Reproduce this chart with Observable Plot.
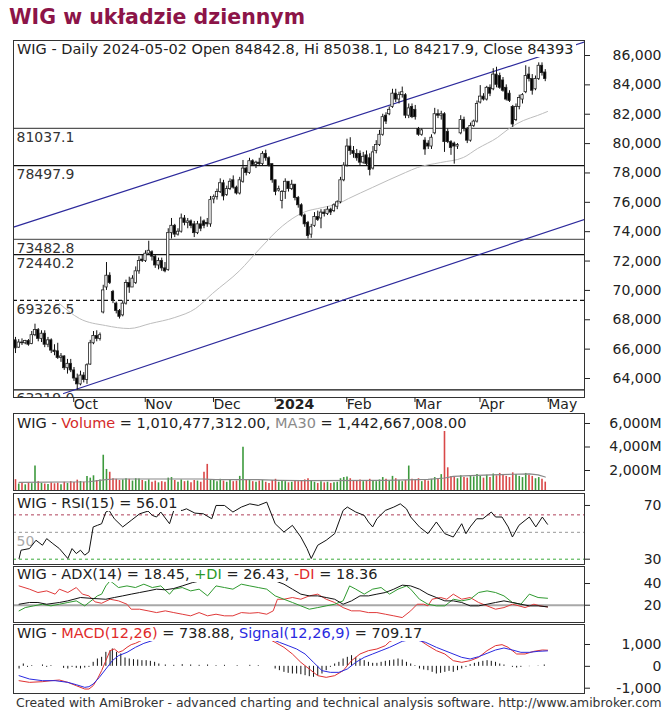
<!DOCTYPE html>
<html><head><meta charset="utf-8">
<script src="https://cdn.jsdelivr.net/npm/d3@7"></script>
<script src="https://cdn.jsdelivr.net/npm/@observablehq/plot@0.6"></script>
<style>
body{margin:0;background:#fff;}
#chart{position:relative;width:667px;height:712px;overflow:hidden;background:#fff;font-family:"DejaVu Sans",sans-serif;color:#222;}
#chart svg{position:absolute;left:0;}
.hdr{position:absolute;left:14px;background:#fff;font-size:14.5px;line-height:15px;height:15px;padding:0 3px;white-space:nowrap;color:#222;}
.title{position:absolute;left:9px;top:5px;font-size:20.5px;font-weight:bold;line-height:24px;color:#8c1448;white-space:nowrap;}
.foot{position:absolute;left:16px;top:695px;font-size:12.4px;line-height:15px;color:#333;white-space:nowrap;}
</style></head><body><div id="chart"></div>
<script>
// ---------- data ----------
const open = [66600,66100,66450,66400,66550,66350,66950,67300,66700,67050,
66300,66600,65900,65850,65400,65500,64700,65000,64550,64000,
63600,64200,63900,64950,66400,66900,66700,68500,70200,71000,
69900,69100,68600,68300,69100,70500,70200,70500,71300,72100,
72000,72500,72600,72300,71700,72000,71500,71400,73900,74400,
73800,74000,74900,74600,74700,74500,73900,74500,74700,74600,
74500,76200,76350,76700,77300,76500,76900,77500,77000,76600,
77400,78300,78000,78800,78550,78700,78600,79300,79000,78600,
77500,76800,76100,76700,77400,76900,77200,76300,75800,75100,
74600,73800,74400,75000,74900,75300,75200,75500,75400,75700,
76000,77500,78500,79800,79500,79300,79300,78700,79200,79000,
78300,79500,79900,80600,81900,82000,82500,83400,83000,83300,
83300,81900,82500,82300,81000,80600,80200,80000,79800,80700,
82000,81900,82000,80800,80100,80000,79800,80700,81600,81000,
80200,81200,81500,82800,83200,83000,83800,83700,84700,84600,
84300,83800,83400,82500,81600,82500,83000,83500,84700,84400,
83700,84400,85300,84842.8];
const high = [66800,66650,66700,66600,66650,67200,67700,67400,67250,67250,
66800,66700,66300,66400,65700,65550,65300,65300,64750,64300,
64500,64400,65000,66600,67200,67250,67100,70350,71900,71200,
70000,69200,68700,69300,70700,70900,71000,71600,72300,72400,
72700,73350,72700,72400,72200,72200,71900,74200,74900,74500,
74200,75200,75100,74900,74800,74700,74700,75000,74800,74900,
76400,76500,76900,77600,77500,77100,77600,77800,77100,77700,
78850,78400,79000,78900,78800,79000,79450,79550,79100,78600,
77500,77100,76800,77600,77400,77500,77200,76400,75900,75200,
74700,74500,75300,75400,75500,75500,75700,75600,75900,76100,
77700,78700,80300,80400,79800,79600,79500,79400,79500,79300,
79800,80200,80900,82000,82100,82500,83700,83700,83500,83850,
83400,82700,82700,82600,81100,81000,80400,80200,80600,82400,
82300,82200,82100,81000,80200,80100,80000,81900,81800,81100,
81400,81600,82900,83950,83400,83900,84000,85100,85200,84800,
84500,84000,83600,82600,82700,83300,83400,85300,85200,84700,
84600,85500,85500,85038.1];
const low = [65700,66050,66250,66300,66200,66300,66850,66500,66450,66100,
66100,65700,65550,65300,65100,64550,64300,64400,63800,63200,
63500,63700,63600,64900,66300,66500,66550,68400,70000,70400,
69100,68400,68050,68200,69000,69800,70200,70400,71100,71900,
71900,72400,72000,71500,71400,71300,71200,71300,73500,73600,
73700,73900,74400,74200,74200,73600,73800,74000,74200,74300,
74300,75900,76150,76600,76100,76400,76800,76900,76500,76500,
77300,77800,77900,78450,78300,78500,78500,78800,78400,77300,
76450,76700,75550,76200,76700,76800,76100,75600,75000,74300,
73500,73550,74300,74700,74200,75000,75100,75100,75300,75500,
75900,77400,78400,79200,79000,78800,78500,78600,78500,77800,
78200,79300,79800,80500,81300,81900,82400,82800,82700,83100,
81700,81700,81700,81600,80500,80500,79200,79600,79600,80600,
81700,81600,79400,80000,79200,78600,79600,80600,80800,80000,
80100,81100,81400,82700,82900,82900,83200,83600,83800,83700,
83500,82900,82800,81100,81500,82300,82700,83400,84200,83300,
83600,84300,84600,84217.9];
const close = [66050,66450,66400,66550,66300,66950,67300,66700,67050,66300,
66600,65900,65800,65400,65500,64700,65000,64550,64000,63600,
64200,63900,64900,66400,66900,66700,66950,70000,71000,70500,
69300,68600,68200,69100,70500,70200,70800,71300,72000,72000,
72500,72700,72300,71700,72000,71500,71300,73900,74400,73800,
74000,74900,74600,74700,74400,73900,74500,74200,74400,74500,
76150,76350,76700,77300,76400,76900,77400,77000,76600,77500,
78300,78000,78800,78550,78700,78600,79300,79000,78500,77500,
76700,76900,76700,77400,76900,77200,76300,75800,75100,74500,
73700,74300,75000,74800,75300,75200,75500,75300,75800,76000,
77500,78500,79800,79500,79300,79000,78700,79100,78600,78200,
79400,79900,80600,81800,81500,82300,83400,83000,83300,83500,
81900,82400,81800,81800,80600,80900,79600,79800,80400,82000,
81900,82000,80100,80100,79700,79800,79900,81600,81000,80200,
81200,81500,82700,83200,83000,83800,83400,84700,84000,83800,
83600,83000,82900,81300,82500,83100,83300,84600,84400,83600,
84400,85300,84800,84393];
// volume in millions
const volume = [1220,850,900,780,950,880,2380,1050,900,850,
800,950,870,920,780,1000,900,1050,980,1180,
1060,1000,1500,1350,1550,1150,1200,3300,2090,1850,
1300,1250,1150,1200,1300,1250,1100,1300,1280,1150,
1050,1200,1000,1100,950,1050,1000,1350,1400,1150,
1000,1200,1050,1100,950,1150,1100,1000,1850,2520,
1200,1150,1050,1250,1100,1000,1150,1050,1100,1500,
3970,1200,1150,1050,1000,1100,1150,1000,900,1150,
1250,1000,1100,1050,950,1000,1100,1050,1150,1200,
1300,1100,1000,900,1050,950,1000,900,950,1000,
1300,1400,1450,1300,1150,1100,1200,1050,1100,1250,
1150,1050,1200,1400,1250,1100,1500,1300,1150,1050,
1150,2380,1250,1150,1300,1050,1200,1100,1250,1400,
1300,1650,5350,2230,1500,1450,1300,1550,1400,1350,
1500,1450,1650,1500,1350,1600,1400,1700,1550,1750,
1600,1500,1400,1800,1650,1500,1400,1750,1600,1500,
1300,1400,1250,1010];
const volumeMA30 = [[1.1,985],[22.6,1043],[27.8,1217],[30.4,1275],[57.8,1275],[61.7,1217],[74.7,1217],[81.3,1159],[87.8,1130],[113.8,1159],[126.9,1246],[132.1,1362],[134.7,1507],[139.9,1565],[146.4,1623],[152.9,1681],[158.1,1710],[160.8,1623],[163,1443]];
const priceMA = [[13.5,69106],[19.7,68084],[27.7,67607],[35,67403],[41.5,67744],[49,68154],[55.4,68765],[60.6,69787],[69,71354],[75,72800],[82.2,74400],[88.5,75305],[94.5,75646],[99.4,75918],[102.5,76259],[109.8,77008],[120,78030],[123.7,78370],[130.8,78711],[137.8,79052],[142.2,79665],[148.3,80414],[152.3,81095],[156.3,81572],[160.6,81913],[163.7,82185]];
const upperTrend = [[-0.6,74309],[175.1,86917]];
const lowerTrend = [[14.8,62975],[175.1,74840]];
const levels = [81037.1, 78497.9, 73482.8, 72440.2, 69326.5, 63219.0];
const levelLabels = ["81037.1","78497.9","73482.8","72440.2","69326.5","63219.0"];
const monthTicks = [17, 39, 60, 79, 101, 122, 142, 163];
const monthLabels = ["Oct","Nov","Dec","2024","Feb","Mar","Apr","May"];
const priceTicks = [64000,66000,68000,70000,72000,74000,76000,78000,80000,82000,84000,86000];
const volumeTicks = [2000,4000,6000];
const rsiTicks = [30,70];
const adxTicks = [20,40];
const macdTicks = [-1000,0,1000];
const rsiLevels = [63, 50, 30];
const rsi = [[1.1,30.5],[1.7,36.7],[4.3,37.9],[6.3,44.1],[8.3,40.4],[9.6,45.3],[11.5,41.6],[13.5,37.9],[16.1,30.5],[17.4,37.9],[18.7,34.2],[20,36.7],[21.3,33],[22.6,35.4],[23.9,54],[25.2,55.2],[26.5,56.4],[27.8,65.1],[28.8,66.3],[30.4,60.1],[33,54],[35.6,58.9],[38.2,63.8],[40.8,65.8],[42.1,62.6],[43.4,61.4],[44.7,65.1],[47.4,56.4],[48.7,66.3],[51.3,66.3],[52.6,67.5],[55.2,64.3],[57.8,63.8],[60.4,60.1],[61.7,70],[64.3,70],[66.9,65.1],[69.5,68.8],[72.1,71.2],[74.7,70],[77.3,72.5],[79.9,56.4],[82.6,50.2],[85.2,55.2],[87.8,46.5],[89.7,37.9],[91,30.5],[93,40.4],[95.6,44.1],[98.2,49],[100.8,66.3],[102.1,68.8],[104.7,65.1],[107.3,62.6],[108.6,57.7],[109.9,54],[111.2,60.1],[113.8,66.3],[116.4,68.8],[118.4,71.2],[120.3,67.5],[121.6,61.4],[124.3,54],[126.9,49],[129.5,57.7],[132.1,49],[134.7,46.5],[137.3,56.4],[138.6,49],[139.9,54],[141.9,60.1],[143.8,60.1],[146.4,65.1],[147.7,61.4],[149.7,61.4],[151.6,54],[152.9,46.5],[154.9,55.2],[156.8,58.9],[158.1,61.4],[160.1,54],[162.1,61.4],[163.7,56]];
const minusDI = [[1.1,37.8],[4.3,34.8],[6.9,31.7],[9.6,33.2],[12.2,30.2],[13.5,34.8],[16.1,31.7],[18.7,36.3],[20.6,30.2],[22.6,28.6],[24.5,23.1],[26.5,21.8],[29.1,25.5],[31.7,24],[34.3,20.9],[35.6,16.3],[38.2,16.3],[40.8,14.8],[43.4,13.2],[46.1,14.8],[48.7,13.2],[51.3,11.7],[53.9,10.2],[56.5,13.2],[59.1,10.2],[61.7,11.7],[64.3,10.2],[66.9,10.2],[69.5,13.2],[72.1,12.6],[74.7,13.2],[77.3,11.7],[79.3,14.8],[80.6,25.5],[82.6,25.5],[85.2,27.1],[87.8,25.5],[90.4,28.6],[93,30.2],[95.6,25.5],[98.2,22.5],[100.8,17.8],[103.4,14.8],[106,14.8],[108.6,13.2],[111.2,13.2],[113.8,11.7],[116.4,10.2],[119,8.6],[121.6,14.8],[123.6,20.9],[125.6,20.9],[126.9,19.4],[128.2,25.5],[130.8,27.1],[132.7,25.5],[134.7,30.2],[137.3,25.5],[139.9,27.1],[142.5,22.5],[145.1,19.4],[147.7,16.3],[150.3,17.8],[152.9,20.9],[154.9,19.4],[156.8,17.8],[159.5,20.9],[161.4,19.4],[163.7,18.4]];
const plusDI = [[1.1,14.8],[3,17.8],[5.6,19.4],[8.3,20.9],[10.9,19.4],[13.5,20.9],[16.1,22.5],[18.7,24],[21.3,19.4],[22.6,22.5],[23.9,25.5],[25.2,28.6],[26.5,30.2],[27.8,37.8],[29.1,42.5],[29.8,40.9],[31.7,36.3],[34.3,37.8],[36.9,36.3],[39.5,39.4],[42.1,36.3],[44.7,37.8],[47.4,30.2],[48.7,34.8],[51.3,36.3],[53.9,33.2],[56.5,34.8],[59.1,28.6],[61.7,37.8],[64.3,36.3],[66.9,34.8],[69.5,39.4],[72.1,37.8],[74.7,36.3],[77.3,34.8],[79.9,28.6],[82.6,25.5],[85.2,22.5],[87.8,19.4],[90.4,16.3],[93,17.8],[95.6,19.4],[98.2,20.9],[100.8,24],[102.8,37.8],[104.7,34.8],[107.3,30.2],[109.9,34.8],[112.5,36.3],[115.1,30.2],[117.7,34.8],[120.3,37.8],[121.6,34.8],[124.3,25.5],[126.9,20.9],[129.5,19.4],[132.1,19.4],[134.7,25.5],[137.3,24],[139.9,25.5],[142.5,31.7],[145.1,33.2],[147.7,31.7],[150.3,28.6],[152.9,22.5],[155.5,20.9],[158.1,30.2],[160.8,27.1],[163.7,26.4]];
const adx = [[1.1,20.9],[4.3,22.5],[6.9,22.5],[9.6,20.9],[13.5,22.5],[16.1,24],[20,27.1],[23.9,26.2],[27.8,25.5],[30.4,27.1],[33,28.6],[35.6,30.2],[38.2,31.7],[40.8,33.2],[43.4,34.8],[46.1,34.2],[48.7,35.4],[51.3,37.8],[54.5,40.9],[61.7,45.5],[72.1,47.1],[77.3,45.5],[82.6,39.4],[85.2,34.8],[87.8,30.2],[90.4,28.6],[93,28.6],[95.6,27.1],[98.2,25.5],[100.8,20.9],[103.4,24],[106,28.6],[108.6,28.6],[111.2,30.2],[113.8,31.7],[116.4,34.8],[119,38.5],[121.6,37.8],[124.3,34.8],[126.9,30.2],[129.5,27.1],[132.1,24],[134.7,24],[137.3,22.5],[139.9,19.4],[142.5,19.4],[145.1,20.9],[147.7,22.5],[150.3,24],[152.9,22.5],[155.5,20.9],[158.1,19.4],[160.8,19.4],[163.7,18.45]];
const macd = [[1.1,-656],[4.3,-733],[8.3,-702],[10.9,-656],[13.5,-626],[16.1,-733],[18.7,-885],[21.3,-1038],[22.6,-1038],[23.9,-885],[25.2,-580],[26.5,-198],[27.8,260],[29.1,718],[30.4,794],[31.7,641],[33,718],[34.3,870],[35.6,992],[36.9,1053],[38.2,1145],[43.4,1480],[51.3,1630],[61.7,1710],[69.5,1630],[76,1400],[79.9,1099],[82.6,870],[85.2,565],[87.8,183],[90.4,-122],[93,-427],[95.6,-504],[98.2,-427],[100.8,-198],[103.4,260],[106,565],[108.6,718],[111.2,794],[113.8,947],[115.1,1130],[120.3,1480],[123.6,1400],[124.9,1145],[126.9,947],[129.5,718],[132.1,565],[134.7,260],[137.3,183],[139.9,260],[142.5,412],[145.1,718],[147.7,947],[149.7,992],[151.6,870],[154.2,565],[156.8,565],[159.5,687],[162.1,748],[163.7,739]];
const signal = [[1.1,-427],[4.3,-580],[8.3,-656],[12.2,-656],[16.1,-733],[18.7,-840],[21.3,-962],[22.6,-931],[23.9,-809],[25.8,-504],[27.8,-122],[29.8,260],[31.7,489],[34.3,641],[36.9,870],[39.5,1053],[42.1,1176],[51.3,1480],[64.3,1630],[74.7,1480],[81.2,1099],[83.9,947],[86.5,794],[89.1,565],[91.7,183],[94.3,-198],[96.9,-275],[99.5,-275],[102.1,-122],[104.7,183],[107.3,412],[109.9,565],[112.5,718],[115.1,870],[117.7,1053],[119,1145],[122.3,1252],[126.2,1099],[129.5,870],[133.4,641],[137.3,412],[139.9,336],[142.5,443],[145.1,595],[147.7,748],[150.3,840],[152.9,748],[155.5,641],[158.1,641],[160.8,687],[163.7,709]];
const histogram = [[1.1,-122],[2.4,107],[3.7,-46],[5,31],[8.3,61],[9.6,-46],[10.9,31],[14.8,-92],[16.1,-122],[17.4,-46],[18.7,-92],[20,-122],[21.3,-76],[22.6,-46],[23.9,183],[25.2,336],[26.5,412],[27.8,641],[29.1,718],[29.8,794],[31.1,641],[32.4,565],[33.7,382],[35,336],[36.3,305],[37.6,290],[38.9,260],[40.2,260],[41.5,229],[42.8,183],[44.1,107],[46.1,61],[48.7,46],[51.3,76],[53.9,61],[56.5,46],[59.1,61],[61.7,31],[64.3,46],[68.2,31],[72.1,46],[74.7,31],[79.9,-122],[81.2,-198],[82.6,-275],[83.9,-321],[85.2,-351],[86.5,-351],[87.8,-382],[89.1,-427],[90.4,-473],[91.7,-504],[93,-427],[94.3,-351],[95.6,-198],[96.9,-46],[98.2,107],[99.5,183],[100.8,336],[102.1,412],[103.4,489],[104.7,412],[106,336],[107.3,260],[108.6,183],[109.9,137],[111.2,137],[112.5,183],[113.8,229],[115.1,260],[116.4,290],[117.7,336],[119,290],[120.3,183],[121.6,107],[122.9,31],[124.3,-122],[125.6,-168],[126.9,-198],[128.2,-275],[129.5,-351],[130.8,-321],[132.1,-275],[133.4,-229],[134.7,-275],[136,-198],[137.3,-122],[138.6,-46],[139.9,76],[141.2,137],[142.5,183],[143.8,229],[145.1,260],[146.4,229],[147.7,183],[149,107],[150.3,61],[152.9,-46],[154.2,-76],[155.5,-46],[158.1,-15],[160.8,15],[162.7,61]];

// ---------- layout ----------
const chart = document.getElementById("chart");
const W = 667, ML = 13, MR = 83;
const xDomain = [-0.615, 175.08];
const baseStyle = {fontFamily: "DejaVu Sans", fontSize: "14px", color: "#222", background: "transparent", overflow: "visible"};
const ax = (ticks, fmt) => Plot.axisY({anchor: "right", ticks, tickFormat: fmt, tickSize: 5, tickPadding: 72, textAnchor: "end", fontSize: 14, label: null});
const px = d => d[0], py = d => d[1];
function place(svg, top) { svg.style.top = top + "px"; chart.appendChild(svg); }

const title = document.createElement("div");
title.className = "title"; title.textContent = "WIG w układzie dziennym";
chart.appendChild(title);

// main price panel
const candles = open.map((o, i) => ({i, o, h: high[i], l: low[i], c: close[i]}));
const levelStroke = ["#555", "#111", "#666", "#111", "#111", "#111"];
const levelDash = [null, null, null, null, "4,3", null];
const fmtComma = d3.format(",");
const main = Plot.plot({
  width: W, height: 383, marginLeft: ML, marginRight: MR, marginTop: 6, marginBottom: 20,
  style: baseStyle,
  x: {domain: xDomain, label: null},
  y: {domain: [62706, 87022], label: null},
  marks: [
    ...levels.map((v, k) => Plot.ruleY([v], {stroke: levelStroke[k], strokeWidth: 1.2, strokeDasharray: levelDash[k]})),
    Plot.text(levels, {y: d => d, text: (d, k) => levelLabels[k], frameAnchor: "left", dx: 3, dy: 9, textAnchor: "start", fill: "#333", fontSize: 14, clip: true}),
    Plot.line(priceMA, {x: px, y: py, stroke: "#bdbdbd", strokeWidth: 1, curve: "monotone-x"}),
    Plot.line(upperTrend, {x: px, y: py, stroke: "#2d2a9c", strokeWidth: 1.2, clip: true}),
    Plot.line(lowerTrend, {x: px, y: py, stroke: "#2d2a9c", strokeWidth: 1.2, clip: true}),
    Plot.ruleX(candles, {x: "i", y1: "l", y2: "h", stroke: "#111", strokeWidth: 1}),
    Plot.rect(candles, {x1: d => d.i - 0.36, x2: d => d.i + 0.36, y1: d => Math.min(d.o, d.c), y2: d => Math.max(d.o, d.c), fill: d => d.c >= d.o ? "#fff" : "#000", stroke: "#222", strokeWidth: 0.8}),
    Plot.frame({stroke: "#333"}),
    ax(priceTicks, fmtComma),
    Plot.axisX({ticks: monthTicks.filter((_, k) => k !== 3), tickFormat: t => monthLabels[monthTicks.indexOf(t)], tickSize: 5, tickPadding: -3, textAnchor: "start", dx: 3, fontSize: 14, label: null}),
    Plot.axisX({ticks: [monthTicks[3]], tickFormat: () => monthLabels[3], tickSize: 5, tickPadding: -3, textAnchor: "start", dx: 3, fontSize: 14, fontWeight: "bold", label: null})
  ]
});
place(main, 34);

// volume panel
const vol = volume.map((v, i) => ({i, v, up: close[i] >= open[i]}));
const volPlot = Plot.plot({
  width: W, height: 85, marginLeft: ML, marginRight: MR, marginTop: 4, marginBottom: 4,
  style: baseStyle,
  x: {domain: xDomain, axis: null, label: null},
  y: {domain: [298, 6851], label: null},
  marks: [
    Plot.ruleX(vol.filter(d => d.up), {x: "i", y1: 0, y2: "v", stroke: "#3d9a3d", strokeWidth: 1.6, clip: true}),
    Plot.ruleX(vol.filter(d => !d.up), {x: "i", y1: 0, y2: "v", stroke: "#d94848", strokeWidth: 1.6, clip: true}),
    Plot.line(volumeMA30, {x: px, y: py, stroke: "#888", strokeWidth: 1.2}),
    Plot.frame({stroke: "#333"}),
    ax(volumeTicks, d => fmtComma(d) + "M")
  ]
});
place(volPlot, 409);

// RSI panel
const rsiStroke = ["#b0405a", "#999", "#3aaa3a"];
const rsiPlot = Plot.plot({
  width: W, height: 79, marginLeft: ML, marginRight: MR, marginTop: 4, marginBottom: 4,
  style: baseStyle,
  x: {domain: xDomain, axis: null, label: null},
  y: {domain: [26.05, 78.9], label: null},
  marks: [
    ...rsiLevels.map((v, k) => Plot.ruleY([v], {stroke: rsiStroke[k], strokeDasharray: "3,3", strokeWidth: 1})),
    Plot.text([rsiLevels[1]], {y: d => d, text: d => String(d), frameAnchor: "left", dx: 3, dy: 9, textAnchor: "start", fill: "#aaa", fontSize: 14}),
    Plot.line(rsi, {x: px, y: py, stroke: "#111", strokeWidth: 1}),
    Plot.frame({stroke: "#333"}),
    ax(rsiTicks, d => String(d))
  ]
});
place(rsiPlot, 489);

// ADX panel
const adxPlot = Plot.plot({
  width: W, height: 64, marginLeft: ML, marginRight: MR, marginTop: 4, marginBottom: 4,
  style: baseStyle,
  x: {domain: xDomain, axis: null, label: null},
  y: {domain: [4.05, 55.7], label: null},
  marks: [
    Plot.ruleY([adxTicks[0]], {stroke: "#a8a8a8", strokeWidth: 2}),
    Plot.line(minusDI, {x: px, y: py, stroke: "#e03a3a", strokeWidth: 1}),
    Plot.line(plusDI, {x: px, y: py, stroke: "#2f9a2f", strokeWidth: 1}),
    Plot.line(adx, {x: px, y: py, stroke: "#111", strokeWidth: 1}),
    Plot.frame({stroke: "#333"}),
    ax(adxTicks, d => String(d))
  ]
});
place(adxPlot, 562);

// MACD panel
const macdPlot = Plot.plot({
  width: W, height: 77, marginLeft: ML, marginRight: MR, marginTop: 4, marginBottom: 4,
  style: baseStyle,
  x: {domain: xDomain, axis: null, label: null},
  y: {domain: [-1243, 1915], label: null},
  marks: [
    Plot.ruleX(histogram, {x: px, y1: 0, y2: py, stroke: "#111", strokeWidth: 1}),
    Plot.line(macd, {x: px, y: py, stroke: "#e03030", strokeWidth: 1, clip: true}),
    Plot.line(signal, {x: px, y: py, stroke: "#2a2ae0", strokeWidth: 1, clip: true}),
    Plot.frame({stroke: "#333"}),
    ax(macdTicks, d => (d < 0 ? "-" : "") + fmtComma(Math.abs(d)))
  ]
});
place(macdPlot, 620);

// headers
function header(top, html) {
  const d = document.createElement("div");
  d.className = "hdr"; d.style.top = top + "px"; d.innerHTML = html;
  chart.appendChild(d);
}
header(42, "WIG - Daily 2024-05-02 Open 84842.8, Hi 85038.1, Lo 84217.9, Close 84393");
header(416, 'WIG - <span style="color:#d42a2a">Volume</span> = 1,010,477,312.00, <span style="color:#8a8a8a">MA30</span> = 1,442,667,008.00');
header(496, "WIG - RSI(15) = 56.01");
header(567, 'WIG - ADX(14) = 18.45, <span style="color:#2a9a2a">+DI</span> = 26.43, <span style="color:#e02a2a">-DI</span> = 18.36');
header(626, 'WIG - <span style="color:#e02a2a">MACD(12,26)</span> = 738.88, <span style="color:#2a2ae0">Signal(12,26,9)</span> = 709.17');

const foot = document.createElement("div");
foot.className = "foot";
foot.textContent = "Created with AmiBroker - advanced charting and technical analysis software. http://www.amibroker.com";
chart.appendChild(foot);
</script></body></html>
